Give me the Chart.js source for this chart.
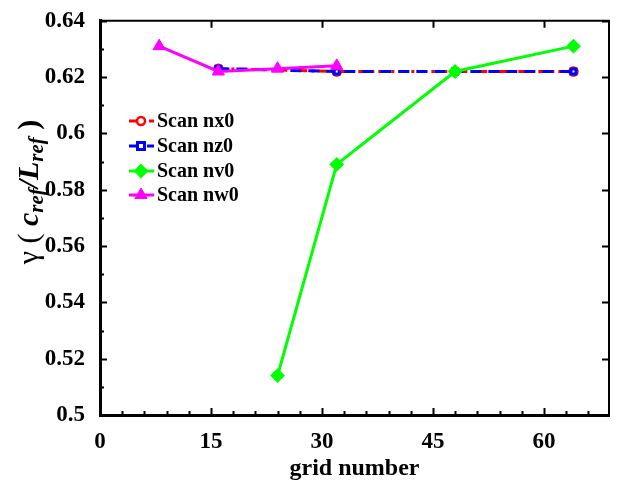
<!DOCTYPE html>
<html>
<head>
<meta charset="utf-8">
<script src="https://cdn.jsdelivr.net/npm/chart.js@4/dist/chart.umd.min.js"></script>
<style>
  body { margin: 0; background: #fff; }
  canvas { display: block; }
</style>
</head>
<body>
<canvas id="myChart" width="617" height="483"></canvas>
<script>
 // data
 var seriesNames = ['Scan nx0', 'Scan nz0', 'Scan nv0', 'Scan nw0'];
 var nx0Grid = [16, 32, 48, 64];
 var nx0Gamma = [0.623, 0.622, 0.622, 0.622];
 var nz0Grid = [16, 32, 48, 64];
 var nz0Gamma = [0.623, 0.622, 0.622, 0.622];
 var nv0Grid = [24, 32, 48, 64];
 var nv0Gamma = [0.514, 0.589, 0.622, 0.631];
 var nw0Grid = [8, 16, 24, 32];
 var nw0Gamma = [0.631, 0.622, 0.623, 0.624];

 var xTicks = [0, 15, 30, 45, 60];
 var yTicks = [0.5, 0.52, 0.54, 0.56, 0.58, 0.6, 0.62, 0.64];
 var yTickLabels = ['0.5', '0.52', '0.54', '0.56', '0.58', '0.6', '0.62', '0.64'];

 var serif = "'Liberation Serif', 'DejaVu Serif', serif";

 function pts(xs, ys) {
   return xs.map(function (x, i) { return { x: x, y: ys[i] }; });
 }

 // inward ticks + top/right frame
 var frameTicks = {
   id: 'frameTicks',
   afterDatasetsDraw: function (chart) {
     var ctx = chart.ctx, a = chart.chartArea, x = chart.scales.x, y = chart.scales.y;
     ctx.save();
     ctx.strokeStyle = '#000';
     ctx.lineWidth = 2;
     ctx.beginPath();
     ctx.moveTo(a.left, a.top); ctx.lineTo(a.right, a.top); ctx.lineTo(a.right, a.bottom);
     ctx.stroke();
     ctx.beginPath();
     for (var v = 0; v <= 66; v += 3) {
       var px = Math.round(x.getPixelForValue(v)) + 0.5;
       var major = v % 15 === 0;
       ctx.moveTo(px, a.bottom); ctx.lineTo(px, a.bottom - (major ? 7 : 4));
       if (major) { ctx.moveTo(px, a.top); ctx.lineTo(px, a.top + 7); }
     }
     for (var k = 0; k <= 14; k++) {
       var val = 0.5 + k * 0.01;
       var py = Math.round(y.getPixelForValue(val)) + 0.5;
       var maj = k % 2 === 0;
       ctx.moveTo(a.left, py); ctx.lineTo(a.left + (maj ? 7 : 4), py);
       if (maj) { ctx.moveTo(a.right, py); ctx.lineTo(a.right - 7, py); }
     }
     ctx.stroke();
     ctx.restore();
   }
 };

 function drawMarker(ctx, ds, cx, cy) {
   var r = ds.pointRadius;
   ctx.save();
   ctx.fillStyle = ds.pointBackgroundColor;
   ctx.strokeStyle = ds.borderColor;
   ctx.lineWidth = ds.pointBorderWidth;
   ctx.setLineDash([]);
   ctx.beginPath();
   if (ds.pointStyle === 'circle') {
     ctx.arc(cx, cy, r, 0, Math.PI * 2);
   } else if (ds.pointStyle === 'rect') {
     ctx.rect(cx - r, cy - r, 2 * r, 2 * r);
   } else if (ds.pointStyle === 'rectRot') {
     ctx.moveTo(cx, cy - r); ctx.lineTo(cx + r, cy); ctx.lineTo(cx, cy + r); ctx.lineTo(cx - r, cy); ctx.closePath();
   } else if (ds.pointStyle === 'triangle') {
     ctx.moveTo(cx, cy - r); ctx.lineTo(cx + r * 0.87, cy + r * 0.5); ctx.lineTo(cx - r * 0.87, cy + r * 0.5); ctx.closePath();
   }
   ctx.fill();
   ctx.stroke();
   ctx.restore();
 }

 // legend drawn inside the plot
 var innerLegend = {
   id: 'innerLegend',
   afterDraw: function (chart) {
     var ctx = chart.ctx;
     var rows = [121, 146, 171, 195];
     ctx.save();
     ctx.font = 'bold 20px ' + serif;
     ctx.textBaseline = 'middle';
     ctx.fillStyle = '#000';
     chart.data.datasets.forEach(function (ds, i) {
       var yy = rows[i];
       ctx.save();
       ctx.strokeStyle = ds.borderColor;
       ctx.lineWidth = ds.borderWidth;
       ctx.setLineDash(ds.borderDash || []);
       ctx.beginPath(); ctx.moveTo(129, yy); ctx.lineTo(154, yy); ctx.stroke();
       ctx.restore();
       drawMarker(ctx, ds, 141, yy);
       ctx.fillText(ds.label, 157, yy + 1);
     });
     ctx.restore();
   }
 };

 // y title with subscripts
 var yTitle = {
   id: 'yTitle',
   afterDraw: function (chart) {
     var ctx = chart.ctx;
     var parts = [
       { t: '\u03b3 ( ', f: '30px ' + serif, dy: 0 },
       { t: 'c', f: 'italic bold 30px ' + serif, dy: 0 },
       { t: 'ref', f: 'italic bold 21px ' + serif, dy: 8 },
       { t: '/', f: 'italic bold 30px ' + serif, dy: 0 },
       { t: 'L', f: 'italic bold 30px ' + serif, dy: 0 },
       { t: 'ref', f: 'italic bold 21px ' + serif, dy: 8 },
       { t: ' )', f: 'bold 30px ' + serif, dy: 0 }
     ];
     ctx.save();
     var total = 0;
     parts.forEach(function (p) { ctx.font = p.f; p.w = ctx.measureText(p.t).width; total += p.w; });
     ctx.translate(30, 192);
     ctx.rotate(-Math.PI / 2);
     ctx.fillStyle = '#000';
     ctx.textBaseline = 'middle';
     var cx = -total / 2;
     parts.forEach(function (p) { ctx.font = p.f; ctx.fillText(p.t, cx, p.dy); cx += p.w; });
     ctx.restore();
   }
 };

 var ctx = document.getElementById('myChart').getContext('2d');
 var chart = new Chart(ctx, {
     type: 'line',
     data: {
         datasets: [{
             label: seriesNames[0],
             data: pts(nx0Grid, nx0Gamma),
             borderColor: '#ff0000',
             borderWidth: 3,
             borderDash: [9, 4, 3, 4],
             pointStyle: 'circle',
             pointRadius: 4,
             pointBorderWidth: 2.5,
             pointBackgroundColor: '#ffffff',
             order: 4
         }, {
             label: seriesNames[1],
             data: pts(nz0Grid, nz0Gamma),
             borderColor: '#0000ff',
             borderWidth: 3,
             borderDash: [11, 7],
             pointStyle: 'rect',
             pointRadius: 3.5,
             pointBorderWidth: 3,
             pointBackgroundColor: '#ffffff',
             order: 3
         }, {
             label: seriesNames[2],
             data: pts(nv0Grid, nv0Gamma),
             borderColor: '#00ff00',
             borderWidth: 3,
             pointStyle: 'rectRot',
             pointRadius: 6,
             pointBorderWidth: 2,
             pointBackgroundColor: '#00ff00',
             order: 2
         }, {
             label: seriesNames[3],
             data: pts(nw0Grid, nw0Gamma),
             borderColor: '#ff00ff',
             borderWidth: 3,
             pointStyle: 'triangle',
             pointRadius: 7,
             pointBorderWidth: 1,
             pointBackgroundColor: '#ff00ff',
             order: 1
         }]
     },
     options: {
       responsive: false,
       animation: false,
       layout: { padding: { top: 17, right: 3, left: 0, bottom: 0 } },
       plugins: { legend: { display: false }, tooltip: { enabled: false } },
       scales: {
         x: {
           type: 'linear',
           min: 0,
           max: 68.8,
           afterBuildTicks: function (s) { s.ticks = xTicks.map(function (v) { return { value: v }; }); },
           afterFit: function (s) { s.height = 68; },
           grid: { display: false },
           border: { display: true, color: '#000', width: 3 },
           ticks: { color: '#000', padding: 5, maxRotation: 0, font: { family: serif, size: 23, weight: 'bold' } },
           title: { display: true, text: 'grid number', color: '#000', padding: 0, font: { family: serif, size: 24, weight: 'bold' } }
         },
         y: {
           min: 0.5,
           max: 0.64,
           afterBuildTicks: function (s) { s.ticks = yTicks.map(function (v) { return { value: v }; }); },
           afterFit: function (s) { s.width = 100; },
           grid: { display: false },
           border: { display: true, color: '#000', width: 3 },
           ticks: {
             color: '#000', padding: 7,
             font: { family: serif, size: 23, weight: 'bold' },
             callback: function (v, i) { return yTickLabels[i]; }
           }
         }
       }
     },
     plugins: [frameTicks, innerLegend, yTitle]
 });
</script>
</body>
</html>
